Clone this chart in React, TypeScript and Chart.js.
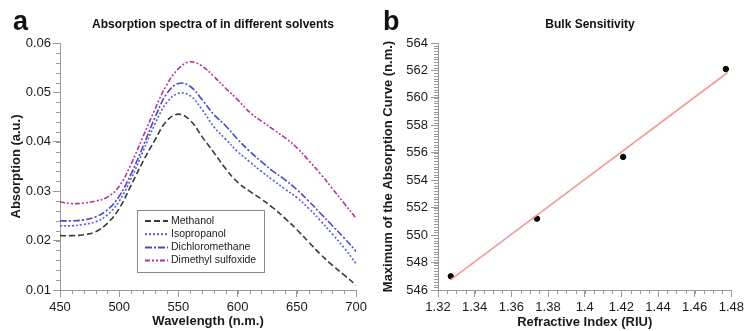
import React, { useEffect, useRef } from 'react';
import { Chart, registerables } from 'chart.js';

Chart.register(...registerables);

// ---------- Panel a data ----------
const wavelengths = [450, 460, 470, 480, 490, 500, 510, 520, 530, 540, 550, 560, 570, 580, 590, 600, 610, 620, 630, 640, 650, 660, 670, 680, 690, 700];
const methanol = [0.0210, 0.0210, 0.0212, 0.0218, 0.0235, 0.0265, 0.0312, 0.0360, 0.0403, 0.0442, 0.0456, 0.0443, 0.0410, 0.0378, 0.0345, 0.0318, 0.0300, 0.0284, 0.0266, 0.0245, 0.0222, 0.0197, 0.0172, 0.0150, 0.0130, 0.0110];
const isopropanol = [0.0230, 0.0230, 0.0233, 0.0238, 0.0252, 0.0280, 0.0325, 0.0380, 0.0435, 0.0479, 0.0498, 0.0493, 0.0465, 0.0430, 0.0405, 0.0380, 0.0360, 0.0340, 0.0322, 0.0304, 0.0287, 0.0265, 0.0240, 0.0213, 0.0185, 0.0153];
const dichloromethane = [0.0240, 0.0240, 0.0242, 0.0248, 0.0262, 0.0290, 0.0335, 0.0390, 0.0448, 0.0497, 0.0518, 0.0512, 0.0485, 0.0455, 0.0432, 0.0405, 0.0381, 0.0360, 0.0340, 0.0323, 0.0303, 0.0280, 0.0255, 0.0230, 0.0205, 0.0178];
const dmso = [0.0278, 0.0275, 0.0276, 0.0280, 0.0288, 0.0310, 0.0355, 0.0410, 0.0465, 0.0515, 0.0548, 0.0562, 0.0553, 0.0532, 0.0508, 0.0485, 0.0460, 0.0442, 0.0425, 0.0408, 0.0388, 0.0362, 0.0335, 0.0305, 0.0275, 0.0245];
const seriesLabels = ['Methanol', 'Isopropanol', 'Dichloromethane', 'Dimethyl sulfoxide'];
const xTicksA = [450, 500, 550, 600, 650, 700];
const yTicksA = [0.01, 0.02, 0.03, 0.04, 0.05, 0.06];

// ---------- Panel b data ----------
const refractiveIndex = [1.327, 1.374, 1.421, 1.477];
const peakWavelength = [547.0, 551.2, 555.7, 562.1];
const fitX = [1.327, 1.478];
const fitY = [546.75, 561.85];
const xTicksB = [1.32, 1.34, 1.36, 1.38, 1.4, 1.42, 1.44, 1.46, 1.48];
const yTicksB = [546, 548, 550, 552, 554, 556, 558, 560, 562, 564];

const FONT = '"Liberation Sans", Arial, Helvetica, sans-serif';
const AXIS = '#9a9a9a';
const TEXT = '#1a1a1a';

const minorTicksPlugin = {
  id: 'minorTicks',
  afterDraw(chart: any, _args: any, opts: any) {
    const ctx = chart.ctx;
    const xs = chart.scales.x;
    const ys = chart.scales.y;
    ctx.save();
    ctx.strokeStyle = AXIS;
    ctx.lineWidth = 1;
    const nx = Math.round((xs.max - xs.min) / opts.xStep);
    for (let i = 0; i <= nx; i++) {
      const p = Math.round(xs.getPixelForValue(xs.min + i * opts.xStep)) + 0.5;
      ctx.beginPath();
      ctx.moveTo(p, xs.top);
      ctx.lineTo(p, xs.top + 4);
      ctx.stroke();
    }
    const ny = Math.round((ys.max - ys.min) / opts.yStep);
    for (let i = 0; i <= ny; i++) {
      const p = Math.round(ys.getPixelForValue(ys.min + i * opts.yStep)) + 0.5;
      ctx.beginPath();
      ctx.moveTo(ys.right - 4, p);
      ctx.lineTo(ys.right, p);
      ctx.stroke();
    }
    ctx.restore();
  },
};

const decorPlugin = {
  id: 'decor',
  afterDraw(chart: any, _args: any, opts: any) {
    const ctx = chart.ctx;
    ctx.save();
    ctx.fillStyle = '#111';
    ctx.textBaseline = 'alphabetic';
    ctx.textAlign = 'left';
    ctx.font = `bold 27px ${FONT}`;
    ctx.fillText(opts.letter, 13, 30);
    ctx.font = `bold 12px ${FONT}`;
    ctx.textAlign = 'center';
    ctx.fillText(opts.title, opts.titleX, 28);
    if (opts.legend) {
      const L = opts.legend;
      ctx.fillStyle = '#fff';
      ctx.fillRect(L.x, L.y, L.w, L.h);
      ctx.strokeStyle = '#888';
      ctx.lineWidth = 1;
      ctx.strokeRect(L.x + 0.5, L.y + 0.5, L.w, L.h);
      ctx.font = `10.5px ${FONT}`;
      ctx.textAlign = 'left';
      ctx.textBaseline = 'middle';
      chart.data.datasets.forEach((ds: any, i: number) => {
        const cy = L.y + 11 + i * 13.2;
        ctx.strokeStyle = ds.borderColor;
        ctx.lineWidth = 2;
        ctx.setLineDash(ds.borderDash || []);
        ctx.beginPath();
        ctx.moveTo(L.x + 8, cy);
        ctx.lineTo(L.x + 31, cy);
        ctx.stroke();
        ctx.setLineDash([]);
        ctx.fillStyle = '#222';
        ctx.fillText(ds.label, L.x + 34, cy);
      });
    }
    ctx.restore();
  },
};

function ticksFrom(values: number[]) {
  return (scale: any) => {
    scale.ticks = values.map((v) => ({ value: v }));
  };
}

const tickFont = { family: FONT, size: 13 };
const titleFont = { family: FONT, size: 13, weight: 'bold' as const };

function PanelA() {
  const ref = useRef<HTMLCanvasElement>(null);
  useEffect(() => {
    const colors = ['#3a3a3a', '#5a5ae0', '#4a4ac8', '#b4349c'];
    const dashes = [[6, 3], [2, 2], [7, 2, 2, 2], [5, 2, 2, 2, 2, 2]];
    const all = [methanol, isopropanol, dichloromethane, dmso];
    const chart = new Chart(ref.current!, {
      type: 'line',
      data: {
        datasets: all.map((vals, i) => ({
          label: seriesLabels[i],
          data: wavelengths.map((w, j) => ({ x: w, y: vals[j] })),
          borderColor: colors[i],
          borderDash: dashes[i],
          borderWidth: 1.6,
          pointRadius: 0,
          tension: 0.4,
          fill: false,
        })),
      },
      options: {
        animation: false,
        responsive: false,
        layout: { padding: { top: 43, right: 11, left: 0, bottom: 0 } },
        plugins: {
          legend: { display: false },
          tooltip: { enabled: false },
          minorTicks: { xStep: 10, yStep: 0.002 },
          decor: {
            letter: 'a',
            title: 'Absorption spectra of in different solvents',
            titleX: 213,
            legend: { x: 137, y: 210, w: 127, h: 62 },
          },
        } as any,
        scales: {
          x: {
            type: 'linear',
            min: 450,
            max: 700,
            afterBuildTicks: ticksFrom(xTicksA),
            afterFit: (s: any) => { s.height = 41; },
            ticks: { font: tickFont, color: TEXT, padding: 3, maxRotation: 0, callback: (v: any) => String(v) },
            grid: { drawOnChartArea: false, drawTicks: true, tickLength: 7, color: AXIS },
            border: { color: AXIS },
            title: { display: true, text: 'Wavelength (n.m.)', font: titleFont, color: TEXT, padding: { top: 0, bottom: 2 } },
          },
          y: {
            type: 'linear',
            min: 0.01,
            max: 0.06,
            afterBuildTicks: ticksFrom(yTicksA),
            afterFit: (s: any) => { s.width = 60; },
            ticks: { font: tickFont, color: TEXT, padding: 2, callback: (v: any) => Number(v).toFixed(2) },
            grid: { drawOnChartArea: false, drawTicks: true, tickLength: 7, color: AXIS },
            border: { color: AXIS },
            title: { display: true, text: 'Absorption (a.u.)', font: titleFont, color: TEXT, padding: { top: 9, bottom: 0 } },
          },
        },
      },
      plugins: [minorTicksPlugin, decorPlugin],
    });
    return () => chart.destroy();
  }, []);
  return <canvas ref={ref} width={370} height={331} style={{ width: 370, height: 331, display: 'block' }} />;
}

function PanelB() {
  const ref = useRef<HTMLCanvasElement>(null);
  useEffect(() => {
    const chart = new Chart(ref.current!, {
      type: 'scatter',
      data: {
        datasets: [
          {
            type: 'line' as const,
            label: 'Linear fit',
            data: fitX.map((x, i) => ({ x, y: fitY[i] })),
            borderColor: '#f29a9a',
            borderWidth: 1.6,
            pointRadius: 0,
            fill: false,
          },
          {
            label: 'Peak',
            data: refractiveIndex.map((x, i) => ({ x, y: peakWavelength[i] })),
            backgroundColor: '#000',
            borderColor: '#000',
            pointRadius: 2.7,
          },
        ],
      },
      options: {
        animation: false,
        responsive: false,
        layout: { padding: { top: 43, right: 14, left: 0, bottom: 0 } },
        plugins: {
          legend: { display: false },
          tooltip: { enabled: false },
          minorTicks: { xStep: 0.005, yStep: 0.2 },
          decor: { letter: 'b', title: 'Bulk Sensitivity', titleX: 220 },
        } as any,
        scales: {
          x: {
            type: 'linear',
            min: 1.32,
            max: 1.48,
            afterBuildTicks: ticksFrom(xTicksB),
            afterFit: (s: any) => { s.height = 41; },
            ticks: { font: tickFont, color: TEXT, padding: 3, maxRotation: 0, autoSkip: false, callback: (v: any) => String(parseFloat(Number(v).toFixed(2))) },
            grid: { drawOnChartArea: false, drawTicks: true, tickLength: 7, color: AXIS },
            border: { color: AXIS },
            title: { display: true, text: 'Refractive Index (RIU)', font: titleFont, color: TEXT, padding: { top: 0, bottom: 1 } },
          },
          y: {
            type: 'linear',
            min: 546,
            max: 564,
            afterBuildTicks: ticksFrom(yTicksB),
            afterFit: (s: any) => { s.width = 68; },
            ticks: { font: tickFont, color: TEXT, padding: 3, callback: (v: any) => String(v) },
            grid: { drawOnChartArea: false, drawTicks: true, tickLength: 7, color: AXIS },
            border: { color: AXIS },
            title: { display: true, text: 'Maximum of the Absorption Curve (n.m.)', font: titleFont, color: TEXT, padding: { top: 11, bottom: 0 } },
          },
        },
      },
      plugins: [minorTicksPlugin, decorPlugin],
    });
    return () => chart.destroy();
  }, []);
  return <canvas ref={ref} width={377} height={331} style={{ width: 377, height: 331, display: 'block' }} />;
}

export default function App() {
  return (
    <div style={{ position: 'fixed', left: 0, top: 0, width: 747, height: 331, background: '#fff', display: 'flex' }}>
      <PanelA />
      <PanelB />
    </div>
  );
}
